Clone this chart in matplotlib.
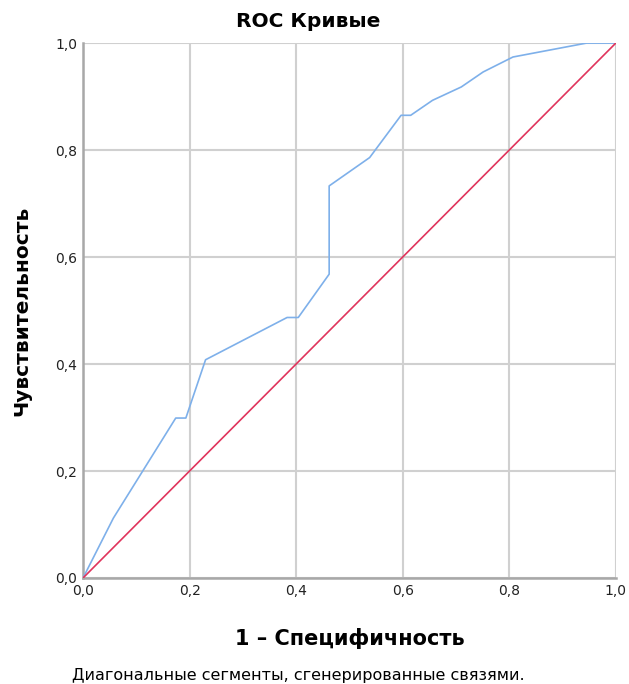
import matplotlib
matplotlib.use("Agg")
import matplotlib.pyplot as plt
from matplotlib.ticker import FuncFormatter

# ROC curve points
fpr = [0.0, 0.057, 0.174, 0.193, 0.230, 0.383, 0.404, 0.462, 0.462,
       0.538, 0.597, 0.615, 0.656, 0.710, 0.751, 0.807, 0.945, 1.0]
tpr = [0.0, 0.112, 0.299, 0.299, 0.408, 0.487, 0.487, 0.568, 0.733,
       0.786, 0.865, 0.865, 0.893, 0.918, 0.946, 0.974, 1.0, 1.0]
ref_line = [0.0, 1.0]
ticks = [0.0, 0.2, 0.4, 0.6, 0.8, 1.0]

plt.rcParams['font.family'] = ['DejaVu Sans']

fig = plt.figure(figsize=(6.29, 6.84), dpi=100)
ax = fig.add_axes([0.132, 0.155, 0.847, 0.782])

ax.plot(fpr, tpr, color='#7eb0ea', linewidth=1.2, zorder=3)
ax.plot(ref_line, ref_line, color='#e0345c', linewidth=1.2, zorder=3)

ax.set_xlim(0, 1)
ax.set_ylim(0, 1)
ax.set_xticks(ticks)
ax.set_yticks(ticks)
fmt = FuncFormatter(lambda v, p: f"{v:.1f}".replace('.', ','))
ax.xaxis.set_major_formatter(fmt)
ax.yaxis.set_major_formatter(fmt)
ax.tick_params(length=0, labelsize=10, pad=4, colors='#222222')
ax.grid(True, color='#d0d0d0', linewidth=1.5, zorder=0)
ax.set_axisbelow(True)

for s in ['top', 'right']:
    ax.spines[s].set_visible(False)
for s in ['left', 'bottom']:
    ax.spines[s].set_color('#a8a8a8')
    ax.spines[s].set_linewidth(1.8)

fig.text(0.49, 0.968, 'ROC Кривые', ha='center', va='center',
         fontsize=14.5, fontweight='bold')
ax.set_xlabel('1 – Специфичность', fontsize=15, fontweight='bold', labelpad=22)
ax.set_ylabel('Чувствительность', fontsize=14.5, fontweight='bold', labelpad=17)
fig.text(0.115, 0.013, 'Диагональные сегменты, сгенерированные связями.',
         ha='left', va='center', fontsize=11.5)

fig.savefig('out.png', dpi=100, facecolor='white')
